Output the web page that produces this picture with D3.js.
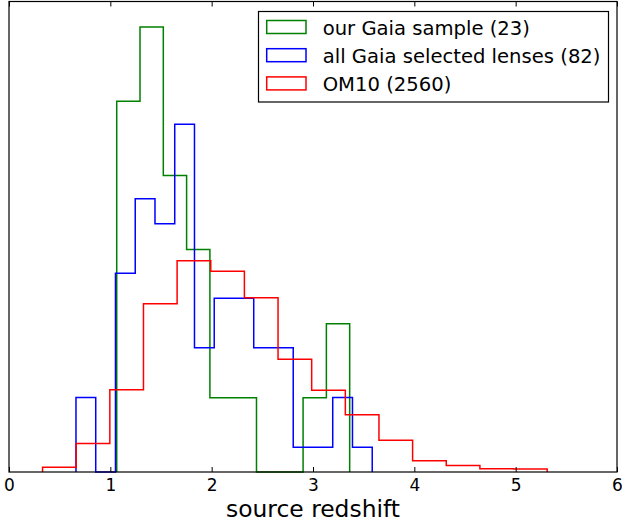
<!DOCTYPE html>
<html>
<head>
<meta charset="utf-8">
<script src="https://cdn.jsdelivr.net/npm/d3@7"></script>
<style>
  html, body { margin: 0; padding: 0; background: #fff; }
  svg { display: block; font-family: "DejaVu Sans", sans-serif; }
</style>
</head>
<body>
<svg id="chart" width="622" height="525"></svg>
<script>
// ---- data ----
const xTickLabels = ["0", "1", "2", "3", "4", "5", "6"];
const seriesNames = ["our Gaia sample (23)", "all Gaia selected lenses (82)", "OM10 (2560)"];
const seriesColors = ["#008000", "#0000ff", "#ff0000"];

// our Gaia sample: counts per bin (normalised histogram)
const gaiaSampleStart = 1.063;
const gaiaSampleWidth = 0.2299;
const gaiaSampleCounts = [5, 6, 4, 3, 1, 1, 0, 0, 1, 2];

// all Gaia selected lenses: counts per bin
const gaiaAllStart = 0.661;
const gaiaAllWidth = 0.1949;
const gaiaAllCounts = [3, 0, 8, 11, 10, 14, 5, 7, 7, 5, 5, 1, 1, 3, 1];

// OM10: probability density per bin
const om10Start = 0.331;
const om10Width = 0.332;
const om10Density = [0.0120, 0.0727, 0.2099, 0.4292, 0.5389, 0.5119, 0.4445, 0.2874,
                     0.2084, 0.1461, 0.0808, 0.0288, 0.0166, 0.0084, 0.0079];

(function () {
// ---- build histograms ----
function fromCounts(start, width, counts) {
  const n = d3.sum(counts);
  return counts.map((c, i) => ({ x0: start + i * width, x1: start + (i + 1) * width, y: c / (n * width) }));
}
function fromDensity(start, width, dens) {
  return dens.map((d, i) => ({ x0: start + i * width, x1: start + (i + 1) * width, y: d }));
}
const series = [
  fromCounts(gaiaSampleStart, gaiaSampleWidth, gaiaSampleCounts),
  fromCounts(gaiaAllStart, gaiaAllWidth, gaiaAllCounts),
  fromDensity(om10Start, om10Width, om10Density)
];

// ---- layout ----
const pLeft = 9, pRight = 617, pTop = 1.5, pBottom = 472;
const svg = d3.select("#chart");
const x = d3.scaleLinear().domain([0, 6]).range([pLeft, pRight]);
const y = d3.scaleLinear().domain([0, 1.2]).range([pBottom, pTop]);

function stepPath(bins) {
  const p = d3.path();
  p.moveTo(x(bins[0].x0), y(0));
  bins.forEach(b => { p.lineTo(x(b.x0), y(b.y)); p.lineTo(x(b.x1), y(b.y)); });
  p.lineTo(x(bins[bins.length - 1].x1), y(0));
  return p.toString();
}
const plot = svg.append("g");
series.forEach((bins, i) => {
  plot.append("path")
    .attr("d", stepPath(bins))
    .attr("fill", "none")
    .attr("stroke", seriesColors[i])
    .attr("stroke-width", 1.5)
    .attr("stroke-linejoin", "miter");
});

// axes
const ticks = xTickLabels.map(Number);
const xAxis = d3.axisBottom(x).tickValues(ticks).tickFormat((d, i) => xTickLabels[i])
  .tickSizeInner(-5).tickSizeOuter(0).tickPadding(7);
const gx = svg.append("g").attr("transform", `translate(0,${pBottom})`).call(xAxis);
gx.select(".domain").remove();
gx.selectAll("line").attr("stroke", "#000").attr("stroke-width", 1);
gx.selectAll("text").attr("font-size", 17).attr("fill", "#000").attr("font-family", "DejaVu Sans, sans-serif");

const xAxisTop = d3.axisTop(x).tickValues(ticks).tickFormat("").tickSizeInner(-5).tickSizeOuter(0);
const gxt = svg.append("g").attr("transform", `translate(0,${pTop})`).call(xAxisTop);
gxt.select(".domain").remove();
gxt.selectAll("line").attr("stroke", "#000").attr("stroke-width", 1);

// frame
svg.append("rect")
  .attr("x", pLeft).attr("y", pTop)
  .attr("width", pRight - pLeft).attr("height", pBottom - pTop)
  .attr("fill", "none").attr("stroke", "#000").attr("stroke-width", 1.2);

// x label
svg.append("text")
  .attr("x", (pLeft + pRight) / 2).attr("y", 516.5)
  .attr("text-anchor", "middle")
  .attr("font-size", 23.4)
  .attr("fill", "#000")
  .text("source redshift");

// legend
const lg = svg.append("g");
lg.append("rect")
  .attr("x", 258.5).attr("y", 11.5).attr("width", 350).attr("height", 90.5)
  .attr("fill", "#fff").attr("stroke", "#000").attr("stroke-width", 1.2);
seriesNames.forEach((name, i) => {
  const cy = 27 + i * 28.2;
  lg.append("rect")
    .attr("x", 266.7).attr("y", cy - 6.5).attr("width", 39.3).attr("height", 13)
    .attr("fill", "none").attr("stroke", seriesColors[i]).attr("stroke-width", 1.5);
  lg.append("text")
    .attr("x", 322.7).attr("y", cy + 7.5)
    .attr("font-size", 19.6)
    .attr("fill", "#000")
    .text(name);
});
})();
</script>
</body>
</html>
